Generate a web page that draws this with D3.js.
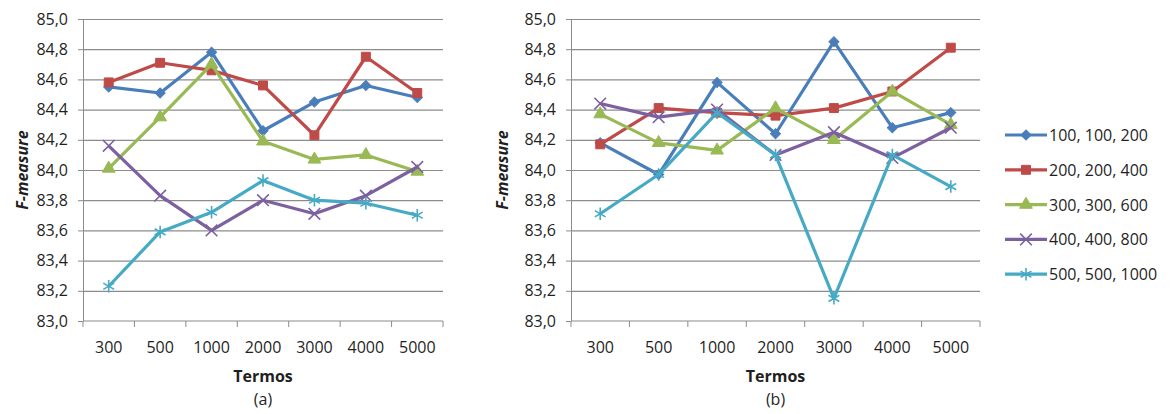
<!DOCTYPE html>
<html>
<head>
<meta charset="utf-8">
<script src="https://cdn.jsdelivr.net/npm/d3@7"></script>
<style>
  body { margin: 0; background: #fff; }
  svg text { font-family: "Open Sans", sans-serif; fill: #1f1f1f; }
</style>
</head>
<body>
<svg id="chart" width="1172" height="414"></svg>
<script>
// categories on the x axis (number of terms)
var termos = ["300", "500", "1000", "2000", "3000", "4000", "5000"];
var yTicks = [83.0, 83.2, 83.4, 83.6, 83.8, 84.0, 84.2, 84.4, 84.6, 84.8, 85.0];
var seriesNames = ["100, 100, 200", "200, 200, 400", "300, 300, 600", "400, 400, 800", "500, 500, 1000"];

// chart (a)
var a100 = [84.55, 84.51, 84.78, 84.26, 84.45, 84.56, 84.48];
var a200 = [84.58, 84.71, 84.66, 84.56, 84.23, 84.75, 84.51];
var a300 = [84.01, 84.35, 84.70, 84.19, 84.07, 84.10, 83.99];
var a400 = [84.16, 83.83, 83.60, 83.80, 83.71, 83.83, 84.02];
var a500 = [83.23, 83.59, 83.72, 83.93, 83.80, 83.78, 83.70];

// chart (b)
var b100 = [84.18, 83.97, 84.58, 84.24, 84.85, 84.28, 84.38];
var b200 = [84.17, 84.41, 84.38, 84.36, 84.41, 84.52, 84.81];
var b300 = [84.37, 84.18, 84.13, 84.41, 84.20, 84.52, 84.30];
var b400 = [84.44, 84.35, 84.40, 84.10, 84.25, 84.08, 84.28];
var b500 = [83.71, 83.97, 84.38, 84.10, 83.15, 84.10, 83.89];

var colors = ["#4a7ebb", "#be4b48", "#98b954", "#7d60a0", "#46aac5"];
// diamond is drawn as a square turned 45 degrees (Excel style)
var symbols = [d3.symbolSquare, d3.symbolSquare, d3.symbolTriangle, d3.symbolTimes, d3.symbolAsterisk];
var symSizes = [50, 80, 70, 90, 110];
var rotations = [45, 0, 0, 0, 0];
var filled = [true, true, true, false, false];

var svg = d3.select("#chart");

function fmt(d) { return d.toFixed(1).replace(".", ","); }

function drawMarker(g, i, x, y) {
    var p = g.append("path")
        .attr("transform", "translate(" + x + "," + y + ") rotate(" + rotations[i] + ")")
        .attr("d", d3.symbol().type(symbols[i]).size(symSizes[i])());
    if (filled[i]) {
        p.attr("fill", colors[i]).attr("stroke", colors[i]).attr("stroke-width", 1);
    } else {
        p.attr("fill", "none").attr("stroke", colors[i]).attr("stroke-width", 1.6);
    }
}

function drawChart(x0, x1, data, label, titleX) {
    var top = 19, bottom = 321;
    var g = svg.append("g");

    var x = d3.scaleBand().domain(termos).range([x0, x1]);
    var y = d3.scaleLinear().domain([83, 85]).range([bottom, top]);

    // gridlines
    g.append("g")
        .attr("transform", "translate(" + x0 + ",0)")
        .call(d3.axisLeft(y).tickValues(yTicks.slice(1)).tickSize(-(x1 - x0)).tickFormat(""))
        .call(function(s) {
            s.select(".domain").remove();
            s.selectAll("line").attr("stroke", "#8c8c8c").attr("stroke-width", 1.2);
        });

    // y axis
    g.append("g")
        .attr("transform", "translate(" + x0 + ",0)")
        .call(d3.axisLeft(y).tickValues(yTicks).tickSize(5).tickPadding(10).tickFormat(fmt))
        .call(function(s) {
            s.select(".domain").attr("stroke", "#8c8c8c").attr("d", "M0.5," + top + "V" + bottom);
            s.selectAll("line").attr("stroke", "#8c8c8c");
            s.selectAll("text").style("font-size", "16px").attr("fill", "#1f1f1f");
        });

    // x axis
    var xa = g.append("g").attr("transform", "translate(0," + bottom + ")");
    xa.append("line").attr("x1", x0).attr("x2", x1).attr("stroke", "#8c8c8c").attr("stroke-width", 1.2);
    var edges = termos.map(function(t) { return x(t); }).concat([x1]);
    xa.selectAll(".tk").data(edges).enter().append("line")
        .attr("x1", function(d) { return d; }).attr("x2", function(d) { return d; })
        .attr("y1", 0).attr("y2", 6).attr("stroke", "#8c8c8c");
    xa.selectAll(".lb").data(termos).enter().append("text")
        .attr("x", function(d) { return x(d) + x.bandwidth() / 2; })
        .attr("y", 32)
        .attr("text-anchor", "middle")
        .style("font-size", "16px")
        .text(function(d) { return d; });

    // series
    var line = d3.line()
        .x(function(d, i) { return x(termos[i]) + x.bandwidth() / 2; })
        .y(function(d) { return y(d); });

    data.forEach(function(vals, i) {
        g.append("path").datum(vals)
            .attr("fill", "none")
            .attr("stroke", colors[i])
            .attr("stroke-width", 3.2)
            .attr("stroke-linejoin", "round")
            .attr("d", line);
        vals.forEach(function(v, j) {
            drawMarker(g, i, x(termos[j]) + x.bandwidth() / 2, y(v));
        });
    });

    // titles
    var cx = (x0 + x1) / 2;
    g.append("text").attr("x", cx).attr("y", 382).attr("text-anchor", "middle")
        .style("font-size", "16px").style("font-weight", "bold").text("Termos");
    g.append("text").attr("x", cx).attr("y", 405).attr("text-anchor", "middle")
        .style("font-size", "16px").text(label);
    g.append("text")
        .attr("transform", "translate(" + titleX + "," + ((top + bottom) / 2) + ") rotate(-90)")
        .attr("text-anchor", "middle")
        .style("font-size", "16px").style("font-weight", "bold").style("font-style", "italic")
        .text("F-measure");
}

drawChart(83, 443, [a100, a200, a300, a400, a500], "(a)", 28);
drawChart(571, 980, [b100, b200, b300, b400, b500], "(b)", 508);

// legend
var legend = svg.append("g");
seriesNames.forEach(function(name, i) {
    var ly = 135 + i * 34.8;
    legend.append("line").attr("x1", 1005).attr("x2", 1047).attr("y1", ly).attr("y2", ly)
        .attr("stroke", colors[i]).attr("stroke-width", 3.2);
    drawMarker(legend, i, 1026, ly);
    legend.append("text").attr("x", 1049).attr("y", ly + 6)
        .style("font-size", "16px").text(name);
});
</script>
</body>
</html>
